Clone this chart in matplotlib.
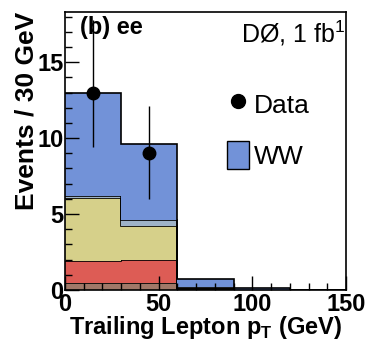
import matplotlib
matplotlib.use("Agg")
import matplotlib.pyplot as plt
import numpy as np
from matplotlib.patches import Patch
from matplotlib.lines import Line2D

bin_edges = [0, 30, 60, 90, 120, 150]
# stacked backgrounds (bottom to top)
brown = [0.45, 0.45, 0.05, 0.0, 0.0]
red = [1.45, 1.55, 0.05, 0.0, 0.0]
yellow = [4.15, 2.2, 0.05, 0.0, 0.0]
thin = [0.15, 0.4, 0.05, 0.0, 0.0]
ww = [6.8, 5.0, 0.5, 0.1, 0.0]

data_x = [15, 45]
data_y = [13, 9]
data_err_lo = [3.6, 3.0]
data_err_hi = [4.8, 3.1]

colors = ["#a07868", "#dd5c55", "#d6d08a", "#9fb3c8", "#7292d8"]
layers = [brown, red, yellow, thin, ww]

plt.rcParams['font.family'] = ['Liberation Sans', 'DejaVu Sans']
plt.rcParams['mathtext.fontset'] = 'custom'
plt.rcParams['mathtext.rm'] = 'Liberation Sans'
plt.rcParams['mathtext.bf'] = 'Liberation Sans:bold'
fig = plt.figure(figsize=(3.69, 3.44), dpi=100)
ax = fig.add_axes([0.176, 0.157, 0.762, 0.808])

edges = np.array(bin_edges)
bottom = np.zeros(len(ww))
for vals, c in zip(layers, colors):
    v = np.array(vals)
    ax.bar(edges[:-1], v, width=np.diff(edges), bottom=bottom, align='edge',
           color=c, edgecolor='none', linewidth=0)
    top = bottom + v
    ax.stairs(top, edges, color='black', linewidth=1.2, baseline=None)
    bottom = top

ax.errorbar(data_x, data_y, yerr=[data_err_lo, data_err_hi], fmt='o', color='black',
            markersize=9, elinewidth=1.0, capsize=0, zorder=5)

ax.set_xlim(0, 150)
ax.set_ylim(0, 18.3)
ax.set_xticks([0, 50, 100, 150])
ax.set_xticks(np.arange(0, 151, 10), minor=True)
ax.set_yticks([0, 5, 10, 15])
ax.set_yticks(np.arange(0, 19, 1), minor=True)
ax.tick_params(which='both', direction='in', top=False, right=False, labelsize=17, width=1)
ax.tick_params(which='major', length=10)
ax.tick_params(which='minor', length=5)
for lab in ax.get_xticklabels() + ax.get_yticklabels():
    lab.set_fontweight('bold')
ax.tick_params(axis='x', pad=2)
ax.tick_params(axis='y', pad=1)

ax.set_xlabel(r'Trailing Lepton p$_\mathbf{T}$ (GeV)', fontsize=17, fontweight='bold', labelpad=-1)
ax.set_ylabel('Events / 30 GeV', fontsize=19, fontweight='bold', labelpad=-1, loc='top')

ax.text(0.055, 0.985, '(b) ee', transform=ax.transAxes, fontsize=17, fontweight='bold', va='top')
ax.text(0.998, 0.975, r'DØ, 1 fb$^{1}$', transform=ax.transAxes, fontsize=18,
        va='top', ha='right')

handles = [Line2D([], [], marker='o', color='black', linestyle='none', markersize=10),
           Patch(facecolor=colors[-1], edgecolor='black')]
ax.legend(handles, ['Data', 'WW'], loc='upper left', bbox_to_anchor=(0.578, 0.72),
          frameon=False, fontsize=19, handlelength=0.8, handleheight=1.27,
          handletextpad=0.2, labelspacing=0.85, borderaxespad=0, borderpad=0)

for s in ax.spines.values():
    s.set_linewidth(1.2)

fig.savefig('out.png', dpi=100)
